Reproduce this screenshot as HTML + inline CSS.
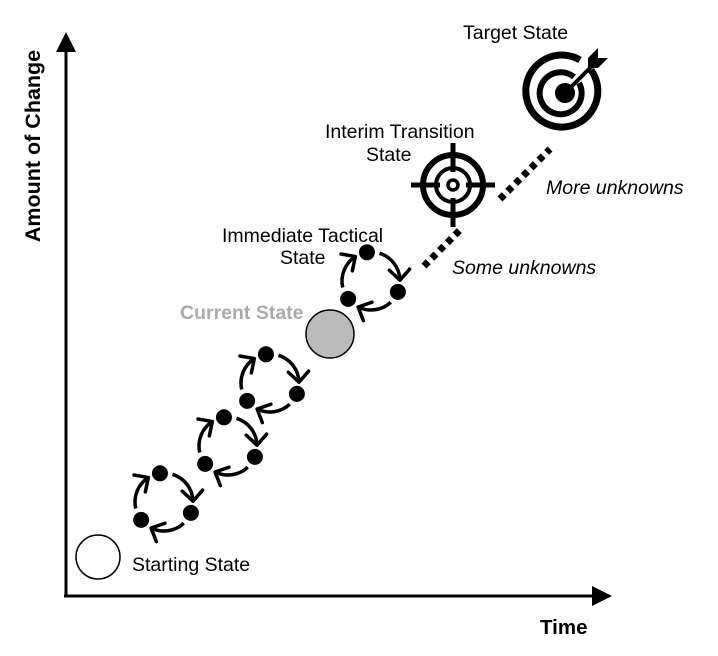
<!DOCTYPE html>
<html><head><meta charset="utf-8"><style>
html,body{margin:0;padding:0;background:#fff}
svg{display:block}
text{font-family:"Liberation Sans",Arial,sans-serif;fill:#000}
</style></head><body>
<svg id="s" width="718" height="656" viewBox="0 0 718 656" xmlns="http://www.w3.org/2000/svg">
<defs>
<marker id="ah" markerWidth="7" markerHeight="7" refX="3.4" refY="3.5" orient="auto" markerUnits="strokeWidth">
<path d="M0.6,0.6 L3.6,3.5 L0.6,6.4" fill="none" stroke="#000" stroke-width="1" stroke-linecap="round" stroke-linejoin="round"/>
</marker>
</defs>
<line x1="66" y1="44" x2="66" y2="597" stroke="#000" stroke-width="3"/>
<polygon points="66,32 56,52 76,52" fill="#000"/>
<line x1="64" y1="596" x2="600" y2="596" stroke="#000" stroke-width="3"/>
<polygon points="612,596 592,586 592,606" fill="#000"/>
<text x="540" y="634" font-size="20.5" font-weight="bold">Time</text>
<text transform="translate(40,146) rotate(-90)" text-anchor="middle" font-size="21.5" font-weight="bold">Amount of Change</text>

<circle cx="98" cy="557" r="22" fill="#fff" stroke="#000" stroke-width="1.5"/>
<text x="132" y="571" font-size="19.5">Starting State</text>
<circle cx="330" cy="334" r="24" fill="#bbb" stroke="#000" stroke-width="1.5"/>
<text x="180" y="319" font-size="19.5" font-weight="bold" style="fill:#aaa">Current State</text>

<g id="cycles"></g>

<line x1="424" y1="266" x2="462" y2="228" stroke="#000" stroke-width="7" stroke-dasharray="6,5"/>
<line x1="500" y1="199" x2="550" y2="149" stroke="#000" stroke-width="7" stroke-dasharray="6,5"/>
<text x="452" y="274" font-size="19.5" font-style="italic">Some unknowns</text>
<text x="546" y="194" font-size="19.5" font-style="italic">More unknowns</text>

<g stroke="#000" fill="none">
<circle cx="453" cy="185" r="30" stroke-width="6"/>
<circle cx="453" cy="185" r="17" stroke-width="4"/>
<circle cx="453" cy="185" r="5" stroke-width="3.5"/>
<line x1="411" y1="185" x2="440" y2="185" stroke-width="5"/>
<line x1="466" y1="185" x2="495" y2="185" stroke-width="5"/>
<line x1="453" y1="143" x2="453" y2="172" stroke-width="5"/>
<line x1="453" y1="198" x2="453" y2="227" stroke-width="5"/>
</g>
<text x="325" y="138" font-size="19.5">Interim Transition</text>
<text x="366" y="161" font-size="19.5">State</text>

<g stroke="#000" fill="none">
<path d="M591,70 A36,36 0 1 1 580,60" stroke-width="7"/>
<path d="M579,83 A21,21 0 1 1 574,77" stroke-width="6"/>
</g>
<circle cx="565" cy="93" r="10" fill="#000"/>
<line x1="565" y1="93" x2="594" y2="64" stroke="#000" stroke-width="4"/>
<polygon points="588,58 598,48 598,58 608,58 598,68 588,68" fill="#000"/>
<text x="463" y="39" font-size="19.5">Target State</text>

<text x="222" y="242" font-size="19.5">Immediate Tactical</text>
<text x="280" y="264" font-size="19.5">State</text>
</svg>
<script>
var g=document.getElementById('cycles');
var groups=[[164,502],[228,446],[270,383],[371,281]];
var NS="http://www.w3.org/2000/svg";
groups.forEach(function(c){
 var R=29;
 [-98,22,142].forEach(function(a){
  var r=a*Math.PI/180;
  var e=document.createElementNS(NS,'circle');
  e.setAttribute('cx',c[0]+R*Math.cos(r));e.setAttribute('cy',c[1]+R*Math.sin(r));
  e.setAttribute('r',8);e.setAttribute('fill','#000');g.appendChild(e);
 });
 [[-73,-3],[47,115],[167,236]].forEach(function(a){
  var a0=a[0]*Math.PI/180,a1=a[1]*Math.PI/180;
  var x0=c[0]+R*Math.cos(a0),y0=c[1]+R*Math.sin(a0),x1=c[0]+R*Math.cos(a1),y1=c[1]+R*Math.sin(a1);
  var p=document.createElementNS(NS,'path');
  p.setAttribute('d','M'+x0+','+y0+' A'+R+','+R+' 0 0 1 '+x1+','+y1);
  p.setAttribute('fill','none');p.setAttribute('stroke','#000');p.setAttribute('stroke-width',3.5);
  p.setAttribute('marker-end','url(#ah)');g.appendChild(p);
 });
});
</script>
</body></html>
